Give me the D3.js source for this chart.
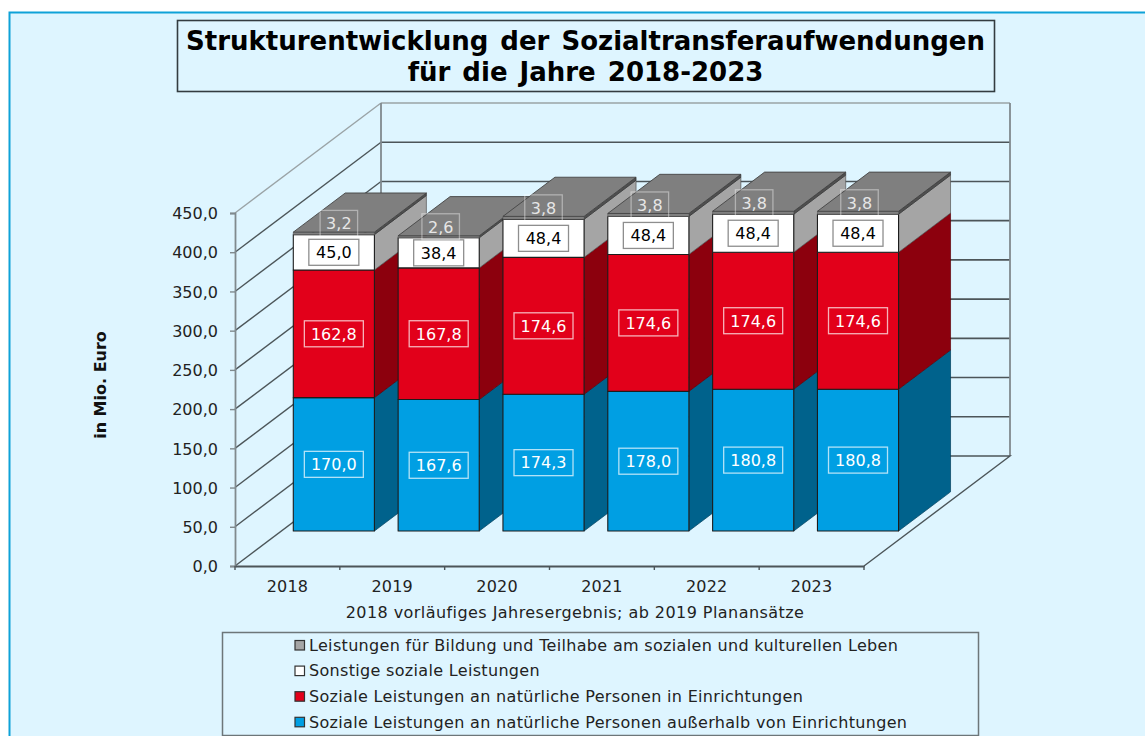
<!DOCTYPE html>
<html><head><meta charset="utf-8">
<style>html,body{margin:0;padding:0;background:#fff}svg{display:block}text{font-family:"DejaVu Sans",Verdana,sans-serif}</style>
<script src="https://cdn.jsdelivr.net/npm/d3@7/dist/d3.min.js"></script>
</head><body><svg id="c" width="1145" height="736"></svg>
<script>
const years=["2018","2019","2020","2021","2022","2023"];
const blueVals=[170.0,167.6,174.3,178.0,180.8,180.8];
const redVals=[162.8,167.8,174.6,174.6,174.6,174.6];
const whiteVals=[45.0,38.4,48.4,48.4,48.4,48.4];
const greyVals=[3.2,2.6,3.8,3.8,3.8,3.8];
const yTicks=[0,50,100,150,200,250,300,350,400,450];
const titleLines=["Strukturentwicklung der Sozialtransferaufwendungen","für die Jahre 2018-2023"];
const legendLabels=["Leistungen für Bildung und Teilhabe am sozialen und kulturellen Leben","Sonstige soziale Leistungen","Soziale Leistungen an natürliche Personen in Einrichtungen","Soziale Leistungen an natürliche Personen außerhalb von Einrichtungen"];
const footnote="2018 vorläufiges Jahresergebnis; ab 2019 Planansätze";
const axisTitle="in Mio. Euro";

const svg=d3.select("#c");
const loc=d3.formatLocale({decimal:",",thousands:".",grouping:[3],currency:["","€"]});
const f1=loc.format(".1f");
const x=d3.scaleBand().domain(years).range([235,864]).paddingInner(0.2263).paddingOuter(0.1132);
const xAxisScale=d3.scaleBand().domain(years).range([235,864]);
const y=d3.scaleLinear().domain([0,450]).range([566,213]);
const dx=t=>146*t, dy=t=>-110*t;
const P=(px,py,t)=>[px+dx(t),py+dy(t)];
const line=d3.line();
const poly=(g,pts,fill,stroke,sw)=>g.append("path").attr("d",line(pts)+"Z").attr("fill",fill).attr("stroke",stroke||"none").attr("stroke-width",sw||0).attr("stroke-linejoin","round");

// page frame
svg.append("rect").attr("x",9.5).attr("y",12.5).attr("width",1150).attr("height",740).attr("fill","#def5ff").attr("stroke","#0ea2d8").attr("stroke-width",2);

// title
svg.append("rect").attr("x",177.5).attr("y",20.5).attr("width",817).attr("height",71).attr("fill","#def5ff").attr("stroke","#333c40").attr("stroke-width",1.6);
svg.selectAll("text.t").data(titleLines).join("text").attr("class","t").attr("x",585.5).attr("y",(d,i)=>50+i*31)
  .attr("text-anchor","middle").attr("font-weight","bold").attr("font-size",26).attr("word-spacing",3).attr("fill","#000").text(d=>d);

// walls and gridlines
const g=svg.append("g");
const gridCol="#4c5559", edgeCol="#808a8e";
yTicks.forEach(v=>{
  const yy=y(v), top=v===450, col=top?"#9aa3a6":gridCol;
  g.append("path").attr("d",line([[235,yy],P(235,yy,1)])).attr("fill","none").attr("stroke",v===0?gridCol:col).attr("stroke-width",1.4);
  if(v>0) g.append("path").attr("d",line([P(235,yy,1),P(864,yy,1)])).attr("fill","none").attr("stroke",col).attr("stroke-width",1.6);
});
g.append("path").attr("d",line([P(235,y(450),1),P(235,y(0),1)])).attr("fill","none").attr("stroke",edgeCol).attr("stroke-width",1.8);
g.append("path").attr("d",line([P(864,y(450),1),P(864,y(0),1)])).attr("fill","none").attr("stroke",edgeCol).attr("stroke-width",1.8);
g.append("path").attr("d",line([P(235,y(0),1),P(864,y(0),1),[864,y(0)]])).attr("fill","none").attr("stroke",gridCol).attr("stroke-width",1.4);

// bars
const t0=0.318,t1=0.674;
const greyLabelNudge=[5,2,0,1.5,1,1.5];
const series=[
 {vals:blueVals,front:"#009fe3",side:"#00628c",sideEdge:"#003f5c",label:"#fff",box:"rgba(255,255,255,.7)",fillBox:"none"},
 {vals:redVals,front:"#e2001a",side:"#8c000d",sideEdge:"#5c0008",label:"#fff",box:"rgba(255,255,255,.7)",fillBox:"none"},
 {vals:whiteVals,front:"#ffffff",side:"#a5a5a5",sideEdge:"#555",label:"#000",box:"#8e8e8e",fillBox:"#fff"},
 {vals:greyVals,front:"#808080",side:"#4f4f4f",sideEdge:"#333",label:"#e6e6e6",box:"rgba(255,255,255,.4)",fillBox:"none",top:true}
];
const labels=[];
years.forEach((yr,i)=>{
  const l=x(yr), r=l+x.bandwidth();
  let cum=0;
  series.forEach((s,k)=>{
    const v=s.vals[i], a=y(cum), b=y(cum+v);
    const fr=(px,py)=>P(px,py,t0), bk=(px,py)=>P(px,py,t1);
    poly(g,[fr(r,a),bk(r,a),bk(r,b),fr(r,b)],s.side,s.sideEdge,.7);
    poly(g,[fr(l,a),fr(r,a),fr(r,b),fr(l,b)],s.front,k===3?"#555":"#1c1c1c",k===3?.6:1.1);
    if(k===3) poly(g,[fr(l,b),fr(r,b),bk(r,b),bk(l,b)],"#7f7f7f","#444",.9);
    const c=fr((l+r)/2,(a+b)/2);
    labels.push({s,v,cx:c[0]+(k===3?greyLabelNudge[i]:0),cy:c[1]+(k===3?-10:0)});
    cum+=v;
  });
});
labels.forEach(d=>{
  const w=d.v>=100?59:(d.v>=10?50:37.5);
  g.append("rect").attr("x",d.cx-w/2).attr("y",d.cy-13).attr("width",w).attr("height",26).attr("fill",d.s.fillBox).attr("stroke",d.s.box).attr("stroke-width",1.3);
  g.append("text").attr("x",d.cx).attr("y",d.cy+5.8).attr("text-anchor","middle").attr("font-size",16).attr("fill",d.s.label).text(f1(d.v));
});

// axes
const ax=svg.append("g").attr("transform","translate(235,0)").call(d3.axisLeft(y).tickValues(yTicks).tickFormat(f1).tickSize(5).tickPadding(12));
ax.select(".domain").attr("stroke",edgeCol).attr("stroke-width",1.8);
ax.selectAll(".tick line").attr("stroke",edgeCol).attr("stroke-width",1.4);
ax.selectAll("text").attr("font-size",16).attr("fill","#222").attr("font-family","\"DejaVu Sans\"").attr("dy","0.36em");
const bx=svg.append("g").attr("transform","translate(0,566)").call(d3.axisBottom(xAxisScale).tickSize(0).tickPadding(15));
bx.select(".domain").attr("stroke",gridCol).attr("stroke-width",1.8);
bx.selectAll("text").attr("font-size",16).attr("letter-spacing",0.2).attr("fill","#222").attr("font-family","\"DejaVu Sans\"");
bx.selectAll(".tk").data(d3.range(7)).join("line").attr("class","tk").attr("x1",i=>235+i*xAxisScale.step()).attr("x2",i=>235+i*xAxisScale.step()).attr("y1",0).attr("y2",4).attr("stroke",gridCol).attr("stroke-width",1.4);

svg.append("text").attr("transform","translate(106,385) rotate(-90)").attr("text-anchor","middle").attr("font-weight","bold").attr("font-size",16).attr("fill","#111").text(axisTitle);
svg.append("text").attr("x",575).attr("y",617.5).attr("text-anchor","middle").attr("font-size",16).attr("letter-spacing",0.44).attr("fill","#222").text(footnote);

// legend
svg.append("rect").attr("x",222.5).attr("y",632.5).attr("width",756).attr("height",103).attr("fill","#def5ff").attr("stroke","#6d7679").attr("stroke-width",1.5);
const legendColors=["#a5a5a5","#ffffff","#e2001a","#009fe3"];
legendLabels.forEach((t,i)=>{
  const yy=645+i*25.6;
  svg.append("rect").attr("x",295).attr("y",yy-4.5).attr("width",9.5).attr("height",9.5).attr("fill",legendColors[i]).attr("stroke","#333").attr("stroke-width",1.2);
  svg.append("text").attr("x",309).attr("y",yy+5.8).attr("font-size",16).attr("letter-spacing",0.32).attr("fill","#222").text(t);
});
</script></body></html>
